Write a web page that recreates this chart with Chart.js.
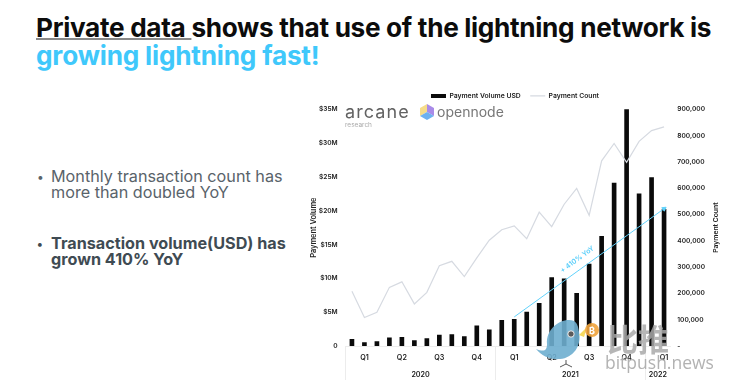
<!DOCTYPE html>
<html>
<head>
<meta charset="utf-8">
<script src="https://cdn.jsdelivr.net/npm/chart.js@4"></script>
<style>
  html, body { margin:0; padding:0; background:#fff; width:733px; height:390px; overflow:hidden; font-family:Inter, sans-serif; }
  canvas { position:absolute; left:0; top:0; }
  .t { position:absolute; white-space:nowrap; }
  svg { position:absolute; overflow:visible; }
</style>
</head>
<body>
<div class="t" style="left:36px;top:12px;font-size:26.2px;font-weight:700;color:#0c0c0c;letter-spacing:-.32px"><span style="text-decoration:underline;text-decoration-thickness:1.5px;text-decoration-color:#888;text-underline-offset:1px">Private data </span>shows that use of the lightning network is</div>
<div class="t" style="left:36px;top:40px;font-size:26.2px;font-weight:700;color:#3fc8fb;letter-spacing:-.2px">growing lightning fast!</div>

<div class="t" style="left:37px;top:169px;font-size:12px;color:#59636a">•</div>
<div class="t" style="left:51px;top:168px;font-size:16.2px;line-height:16px;color:#59636a">Monthly transaction count has<br>more than doubled YoY</div>
<div class="t" style="left:37px;top:236px;font-size:12px;font-weight:700;color:#3f4b53">•</div>
<div class="t" style="left:51px;top:235px;font-size:16.2px;line-height:16px;font-weight:700;color:#3f4b53">Transaction volume(USD) has<br>grown 410% YoY</div>

<canvas id="myChart" width="733" height="390"></canvas>

<!-- logos -->
<div class="t" style="left:345px;top:101px;font-size:18px;letter-spacing:1.1px;color:#626262">arcane</div>
<div class="t" style="left:345px;top:121px;font-size:6.5px;color:#aaa">research</div>
<svg style="left:420px;top:104px" width="15" height="17">
  <polygon points="7,0 0,4 0,12 7,8" fill="#f6dc8a"/>
  <polygon points="7,0 14,4 14,12 7,8" fill="#a98be8"/>
  <polygon points="0,12 7,8 14,12 7,16" fill="#6db1f0"/>
</svg>
<div class="t" style="left:437px;top:103px;font-size:14px;color:#777">opennode</div>

<!-- watermark -->
<svg style="left:530px;top:320px;opacity:.9" width="80" height="50">
  <path d="M6 29 C14 32 17 31 17 24 C16 10 28 0 39 0 C46 0 48 4 49 12 C52 26 43 38 30 39 C20 40 12 36 6 29 Z" fill="#6eaed0"/>
  <circle cx="41" cy="14" r="3.2" fill="#4a4a4a" stroke="#eee"/>
  <path d="M36 40 V44 M30 47 L36 44 L42 47" stroke="#444" fill="none"/>
  <polygon points="49,15 57,7 54,17" fill="#f5d650"/>
  <circle cx="62" cy="10" r="7" fill="#f0a43c"/>
</svg>
<div class="t" style="left:589px;top:325px;font-size:9px;font-weight:700;color:#fff">₿</div>
<div class="t" style="left:607px;top:315px;font-size:31px;font-weight:700;font-family:'Noto Sans CJK SC';color:#aaa;opacity:.85">比推</div>
<div class="t" style="left:605px;top:350px;font-size:17.5px;font-family:'Open Sans';color:#aaa;opacity:.9">bitpush.news</div>

<script>
var categories = ["Jan 20","Feb 20","Mar 20","Apr 20","May 20","Jun 20","Jul 20","Aug 20","Sep 20","Oct 20","Nov 20","Dec 20",
  "Jan 21","Feb 21","Mar 21","Apr 21","May 21","Jun 21","Jul 21","Aug 21","Sep 21","Oct 21","Nov 21","Dec 21","Jan 22","Feb 22"];
var quarterLabels = ["","Q1","","","Q2","","","Q3","","","Q4","","","Q1","","","Q2","","","Q3","","","Q4","","","Q1"];
var yearLabels = {6:"2020", 18:"2021", 25:"2022"};
var yearBoundaries = [0,12,24,26];

// millions of USD
var paymentVolume = [1.0,0.5,0.65,1.2,1.3,0.8,1.1,1.6,1.7,1.4,3.0,2.4,3.8,3.95,5.0,6.3,10.1,9.95,7.8,12.1,16.2,24.1,35,22.5,24.9,20.2];
var paymentCount = [208000,108000,128000,223000,244000,160000,204000,305000,322000,264000,335000,402000,442000,457000,408000,509000,454000,539000,599000,497000,704000,770000,698000,778000,819000,833000];
var trendArrow = [null,null,null,null,null,null,null,null,null,null,null,null,null,4.3,null,null,null,null,null,null,null,null,null,null,null,20.3];

var tickFont = {family:"Inter", size:6.6, weight:"600"};
var bottomFont = {family:"Inter", size:7.2, weight:"600"};
var legendFont = {family:"Inter", size:6.8, weight:"600"};
var tickColor = "#222";

// text and axis title the library cannot place itself
var notes = {
  id:"notes",
  afterDatasetsDraw: function(chart){
    var c = chart.ctx, x = chart.scales.x, y = chart.scales.y;
    c.save();
    c.translate(x.getPixelForValue(18) + 0.5, y.getPixelForValue(12.8));
    c.rotate(-36 * Math.PI / 180);
    c.font = "600 7px Inter";
    c.fillStyle = "#55cdfa";
    c.textAlign = "center";
    c.fillText("+ 410% YoY", 0, 0);
    c.restore();
    c.save();
    c.translate(716, (chart.chartArea.top + chart.chartArea.bottom) / 2);
    c.rotate(-Math.PI / 2);
    c.font = "600 6.8px Inter";
    c.fillStyle = tickColor;
    c.textAlign = "center";
    c.fillText("Payment Count", 0, 0);
    c.restore();
  }
};

var myChart = new Chart(document.getElementById("myChart").getContext("2d"), {
  data: {
    labels: categories,
    datasets: [
      {type:"bar", label:"Payment Volume USD", data:paymentVolume, backgroundColor:"#0a0a0a", barThickness:4, yAxisID:"y", order:3, pointStyle:"rect"},
      {type:"line", label:"Payment Count", data:paymentCount, borderColor:"#d6dae1", backgroundColor:"#d6dae1", borderWidth:1.2, tension:0, pointRadius:0, yAxisID:"y1", order:2, pointStyle:"line"},
      {type:"line", label:"trend", data:trendArrow, borderColor:"#62d2fb", backgroundColor:"#62d2fb", borderWidth:1, spanGaps:true, tension:0, yAxisID:"y", order:1,
        pointStyle:"triangle", pointRotation:54, pointRadius:function(ctx){ return ctx.dataIndex === 25 ? 2.5 : 0; }}
    ]
  },
  options: {
    responsive:false,
    animation:false,
    layout:{ padding:{left:305, right:8, top:83, bottom:0} },
    plugins:{
      tooltip:{enabled:false},
      legend:{
        position:"top",
        labels:{
          usePointStyle:true, pointStyleWidth:15, boxHeight:4, padding:9.5,
          color:tickColor, font:legendFont,
          filter:function(item){ return item.text !== "trend"; },
          sort:function(a,b){ return a.datasetIndex - b.datasetIndex; }
        }
      }
    },
    scales:{
      x:{
        type:"category",
        grid:{drawOnChartArea:false, tickLength:34, tickColor:function(ctx){ return yearBoundaries.indexOf(ctx.index) >= 0 ? "#ececec" : "transparent"; }},
        border:{color:"#ececec"},
        ticks:{autoSkip:false, maxRotation:0, padding:-26, color:tickColor, font:bottomFont, callback:function(v,i){ return quarterLabels[i]; }},
        afterFit:function(s){ s.height = 22; }
      },
      x2:{
        type:"linear", position:"bottom", min:0, max:26,
        grid:{display:false, drawTicks:false}, border:{display:false},
        afterBuildTicks:function(s){ s.ticks = Object.keys(yearLabels).map(function(k){ return {value:+k}; }); },
        ticks:{autoSkip:false, maxRotation:0, padding:3, color:tickColor, font:bottomFont, callback:function(v){ return yearLabels[v] || ""; }},
        afterFit:function(s){ s.height = 22; }
      },
      y:{
        position:"left", min:0, max:35,
        grid:{display:false, drawTicks:false}, border:{display:false},
        title:{display:true, text:"Payment Volume", color:tickColor, font:{family:"Inter", size:7.4, weight:"600"}, padding:{top:4, bottom:0}},
        ticks:{stepSize:5, padding:8, color:tickColor, font:tickFont, callback:function(v){ return v === 0 ? "0" : "$" + v + "M"; }},
        afterFit:function(s){ s.width = 40.7; }
      },
      y1:{
        position:"right", min:0, max:900000,
        grid:{display:false, drawTicks:false}, border:{display:false},
        ticks:{stepSize:100000, padding:7, color:tickColor, font:tickFont, callback:function(v){ return v === 0 ? "-" : v.toLocaleString("en-US"); }},
        afterFit:function(s){ s.width = 54.7; }
      }
    }
  },
  plugins:[notes]
});
</script>
</body>
</html>
